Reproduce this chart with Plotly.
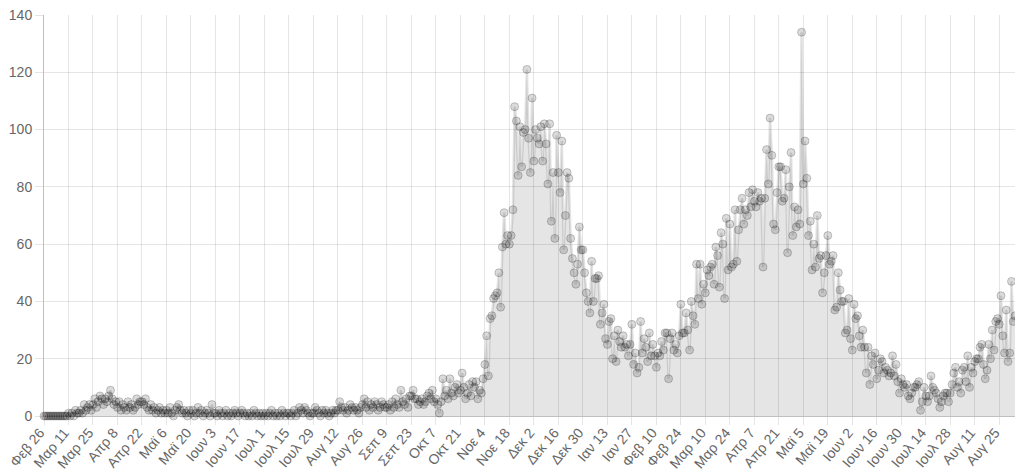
import pandas as pd
import plotly.graph_objects as go

# Daily values, 26 Feb 2020 onwards (one value per day)
deaths_spring_2020 = [
    0, 0, 0, 0, 0, 0, 0, 0, 0, 0, 0, 0, 0, 0,
    1, 0, 1, 0, 2, 1, 1, 2, 1, 4, 2, 3, 4, 2,
    4, 6, 3, 5, 7, 6, 4, 6, 5, 7, 9, 6, 4, 5,
    3, 5, 2, 4, 3, 2, 5, 3, 4, 2, 3, 6, 4, 5,
    5, 4, 6, 3, 2, 4, 2, 3, 1, 2, 3, 1, 2, 1,
    2, 1, 3, 1, 0, 2, 3, 4, 2, 1, 2, 1, 0, 2,
    1, 2, 0, 1, 3, 1, 2, 0, 1, 2, 1, 0, 4, 1,
]
deaths_summer_2020 = [
    1, 0, 2, 1, 0, 1, 2, 0, 1, 0, 1, 2, 1, 0,
    1, 2, 1, 0, 1, 0, 1, 0, 2, 1, 0, 1, 0, 1,
    0, 1, 0, 1, 2, 0, 1, 0, 1, 0, 2, 1, 0, 1,
    1, 0, 1, 2, 0, 1, 3, 2, 1, 3, 2, 1, 0, 1,
    1, 3, 2, 1, 0, 2, 1, 2, 1, 0, 1, 2, 1, 2,
    2, 5, 3, 2, 3, 1, 2, 4, 3, 2, 3, 2, 1, 3,
    4, 6, 3, 5, 2, 4, 3, 5, 4, 2, 3, 5, 4, 3,
]
deaths_autumn_2020 = [
    3, 4, 2, 5, 3, 6, 4, 3, 9, 5, 4, 6, 3, 7,
    7, 9, 6, 6, 4, 5, 6, 4, 5, 7, 8, 6, 9, 5,
    6, 4, 1, 5, 13, 7, 9, 6, 13, 8, 7, 10, 11, 8,
    9, 15, 10, 6, 8, 11, 7, 12, 10, 12, 6, 9, 8, 13,
    18, 28, 14, 34, 35, 41, 42, 43, 50, 38, 59, 71, 60, 63,
    60, 63, 72, 108, 103, 84, 101, 87, 99, 100, 121, 97, 85, 111,
]
deaths_winter_2021 = [
    89, 100, 97, 95, 101, 89, 102, 95, 81, 102, 68, 85, 62, 98,
    85, 78, 96, 58, 70, 85, 83, 62, 55, 50, 46, 53, 66, 58,
    58, 50, 43, 40, 36, 54, 40, 48, 48, 49, 32, 36, 39, 27,
    25, 33, 34, 20, 28, 19, 30, 26, 24, 28, 24, 25, 21, 25,
    32, 18, 22, 15, 17, 33, 22, 27, 24, 19, 29, 21, 25, 21,
    17, 22, 21, 26, 23, 29, 29, 13, 27, 29, 23, 25, 22, 28,
    39, 29, 29, 36, 30, 23, 40, 35, 32, 53, 41,
]
deaths_spring_2021 = [
    53, 39, 46, 43, 51, 49, 52, 53, 46, 59, 56, 45, 64, 60,
    41, 69, 51, 67, 52, 53, 72, 54, 65, 72, 76, 67, 72, 70,
    78, 73, 79, 75, 73, 78, 75, 76, 52, 76, 93, 81, 104, 91,
    67, 65, 78, 87, 87, 75, 76, 86, 57, 80, 92, 63, 73, 66,
    72, 67, 134, 81, 96, 83, 63, 68, 51, 60, 52, 70, 55, 56,
    43, 50, 56, 63, 53, 54, 56, 37, 38, 50, 44, 40, 40, 29,
    30, 41, 27, 23, 39, 34, 35,
]
deaths_summer_2021 = [
    28, 24, 30, 24, 15, 24, 11, 21, 18, 22, 13, 16, 20, 19,
    15, 17, 16, 14, 15, 21, 14, 18, 12, 8, 13, 11, 10, 11,
    7, 6, 8, 10, 10, 11, 12, 2, 5, 10, 7, 5, 7, 14,
    10, 9, 8, 6, 3, 5, 7, 8, 8, 5, 8, 11, 15, 17,
    10, 12, 8, 16, 17, 12, 21, 10, 17, 15, 19, 20, 20, 24,
    25, 18, 13, 16, 25, 20, 30, 23, 33, 34, 32, 42, 28, 22,
    37, 19, 22, 47, 33, 35,
]

start_date = "2020-02-26"
tick_labels = [
    "Φεβ 26", "Μαρ 11", "Μαρ 25", "Απρ 8", "Απρ 22", "Μαϊ 6", "Μαϊ 20",
    "Ιουν 3", "Ιουν 17", "Ιουλ 1", "Ιουλ 15", "Ιουλ 29", "Αυγ 12", "Αυγ 26",
    "Σεπ 9", "Σεπ 23", "Οκτ 7", "Οκτ 21", "Νοε 4", "Νοε 18", "Δεκ 2",
    "Δεκ 16", "Δεκ 30", "Ιαν 13", "Ιαν 27", "Φεβ 10", "Φεβ 24", "Μαρ 10",
    "Μαρ 24", "Απρ 7", "Απρ 21", "Μαϊ 5", "Μαϊ 19", "Ιουν 2", "Ιουν 16",
    "Ιουν 30", "Ιουλ 14", "Ιουλ 28", "Αυγ 11", "Αυγ 25",
]
y_ticks = [0, 20, 40, 60, 80, 100, 120, 140]
series_name = "Θάνατοι"

deaths = (deaths_spring_2020 + deaths_summer_2020 + deaths_autumn_2020
          + deaths_winter_2021 + deaths_spring_2021 + deaths_summer_2021)
dates = pd.date_range(start_date, periods=len(deaths), freq="D")
tick_vals = pd.date_range(start_date, periods=len(tick_labels), freq="14D")

fig = go.Figure()
fig.add_trace(go.Scatter(
    x=dates, y=deaths, name=series_name,
    mode="lines+markers", cliponaxis=False,
    fill="tozeroy", fillcolor="rgba(0,0,0,0.1)",
    line=dict(color="rgba(0,0,0,0.11)", width=2.5),
    marker=dict(size=8, color="rgba(0,0,0,0.14)",
                line=dict(color="rgba(0,0,0,0.2)", width=1)),
))

grid = "rgba(0,0,0,0.1)"
# The page body has an 8px margin, so the figure is sized and offset for it.
fig.update_layout(
    width=1015, height=467,
    margin=dict(l=36, r=8, t=7, b=59, autoexpand=False),
    paper_bgcolor="white", plot_bgcolor="white",
    font=dict(family="Liberation Sans, Arial, sans-serif", size=14, color="#666"),
    showlegend=False,
    xaxis=dict(
        type="date", range=[dates[0], dates[-1]],
        tickmode="array", tickvals=tick_vals, ticktext=tick_labels,
        tickangle=-50, tickfont=dict(size=14),
        ticklabelstandoff=-6, ticklabelshift=-4, ticklabeloverflow="allow",
        showgrid=True, gridcolor=grid, gridwidth=1,
        ticks="outside", ticklen=8, tickcolor=grid,
        showline=True, linecolor="rgba(0,0,0,0.25)", linewidth=1,
        zeroline=False,
    ),
    yaxis=dict(
        range=[0, 140], tickmode="array", tickvals=y_ticks,
        tickfont=dict(size=14), ticklabelstandoff=0, ticklabeloverflow="allow",
        showgrid=True, gridcolor=grid, gridwidth=1,
        ticks="outside", ticklen=8, tickcolor=grid,
        showline=True, linecolor="rgba(0,0,0,0.25)", linewidth=1,
        zeroline=False,
    ),
)

fig.write_html("out.html")
